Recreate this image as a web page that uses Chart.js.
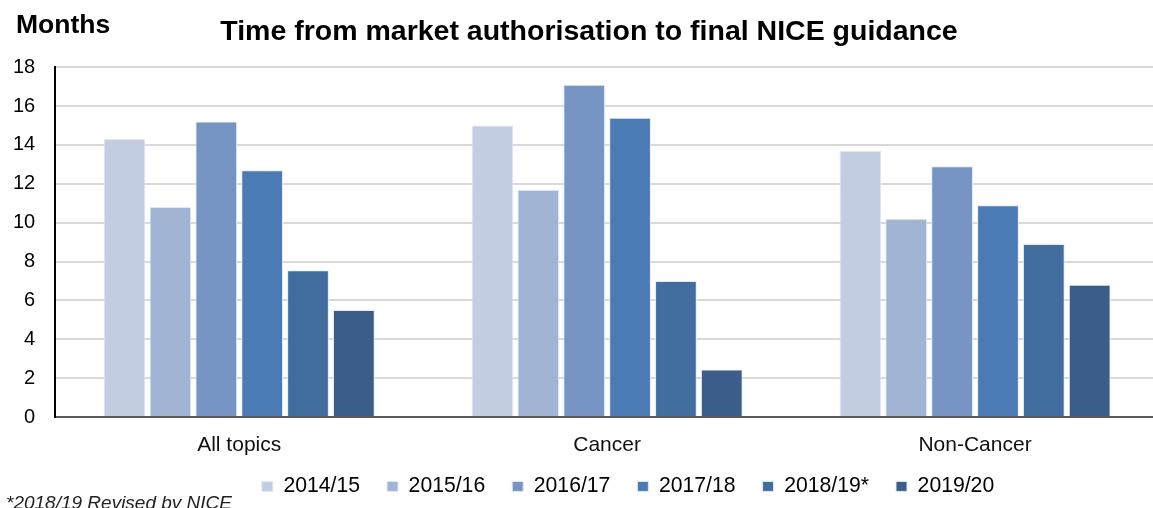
<!DOCTYPE html>
<html><head><meta charset="utf-8">
<script src="https://cdn.jsdelivr.net/npm/chart.js@4/dist/chart.umd.min.js"></script>
<style>
html,body{margin:0;padding:0;background:#fff;overflow:hidden;width:1153px;height:508px}
#wrap{position:absolute;left:0;top:0;width:1160px;height:508px}
</style>
</head><body><div id="wrap"><canvas id="c"></canvas></div>
<script>
const categories = ['All topics', 'Cancer', 'Non-Cancer'];
const seriesLabels = ['2014/15', '2015/16', '2016/17', '2017/18', '2018/19*', '2019/20'];
const v2014_15 = [14.3, 15.0, 13.7];
const v2015_16 = [10.8, 11.7, 10.2];
const v2016_17 = [15.2, 17.1, 12.9];
const v2017_18 = [12.7, 15.4, 10.9];
const v2018_19 = [7.55, 7.0, 8.9];
const v2019_20 = [5.5, 2.45, 6.8];
const yTicks = [0, 2, 4, 6, 8, 10, 12, 14, 16, 18];
const seriesValues = [v2014_15, v2015_16, v2016_17, v2017_18, v2018_19, v2019_20];
const colors = ['#c2cde2', '#a2b4d4', '#7694c4', '#4a7bb5', '#426d9f', '#3a5d8a'];
const FONT = '"Liberation Sans", Arial, sans-serif';

const extraText = {
  id: 'extraText',
  afterLayout(chart) {
    const lg = chart.legend;
    if (lg) { lg.left += 52; lg.right += 52; lg.top -= 8.2; lg.bottom -= 8.2; }
    if (chart.titleBlock) { chart.titleBlock.left += 13; chart.titleBlock.right += 13; }
  },
  afterDraw(chart) {
    const ctx = chart.ctx;
    ctx.save();
    ctx.fillStyle = '#000';
    ctx.textAlign = 'left';
    ctx.textBaseline = 'alphabetic';
    ctx.font = 'bold 26.5px ' + FONT;
    ctx.fillText('Months', 16, 33);
    ctx.fillStyle = '#222';
    ctx.font = 'italic 19px ' + FONT;
    ctx.fillText('*2018/19 Revised by NICE', 6, 509);
    ctx.restore();
  }
};

new Chart(document.getElementById('c'), {
  type: 'bar',
  data: {
    labels: categories,
    datasets: seriesLabels.map((l, i) => ({
      label: l,
      data: seriesValues[i],
      backgroundColor: colors[i],
      borderColor: '#e3e9f4',
      borderWidth: 1,
      categoryPercentage: 0.748,
      barPercentage: 0.91
    }))
  },
  options: {
    responsive: true,
    maintainAspectRatio: false,
    animation: false,
    layout: { padding: { left: -7, right: 1, top: 0, bottom: 1 } },
    plugins: {
      title: {
        display: true,
        text: 'Time from market authorisation to final NICE guidance',
        color: '#000',
        font: { family: FONT, size: 28.5, weight: 'bold' },
        padding: { top: 15, bottom: 18 }
      },
      legend: {
        position: 'bottom',
        maxHeight: 50,
        labels: {
          color: '#000',
          font: { family: FONT, size: 21.2 },
          boxWidth: 11,
          boxHeight: 10,
          padding: 27
        }
      },
      tooltip: { enabled: false }
    },
    scales: {
      x: {
        afterFit(scale) { scale.height = 40; },
        grid: { display: false, drawTicks: false },
        border: { display: true, color: '#595959', width: 2 },
        ticks: {
          color: '#111',
          font: { family: FONT, size: 21 },
          padding: 16
        }
      },
      y: {
        min: 0,
        max: 18,
        afterBuildTicks(scale) { scale.ticks = yTicks.map(v => ({ value: v })); },
        grid: {
          color: c => (c.tick && c.tick.value === 0) ? '#595959' : '#d9d9d9',
          lineWidth: 2,
          drawTicks: false
        },
        border: { display: true, color: '#000', width: 2 },
        ticks: {
          color: '#000',
          font: { family: FONT, size: 20 },
          padding: 20
        }
      }
    }
  },
  plugins: [extraText]
});
</script>
</body></html>
